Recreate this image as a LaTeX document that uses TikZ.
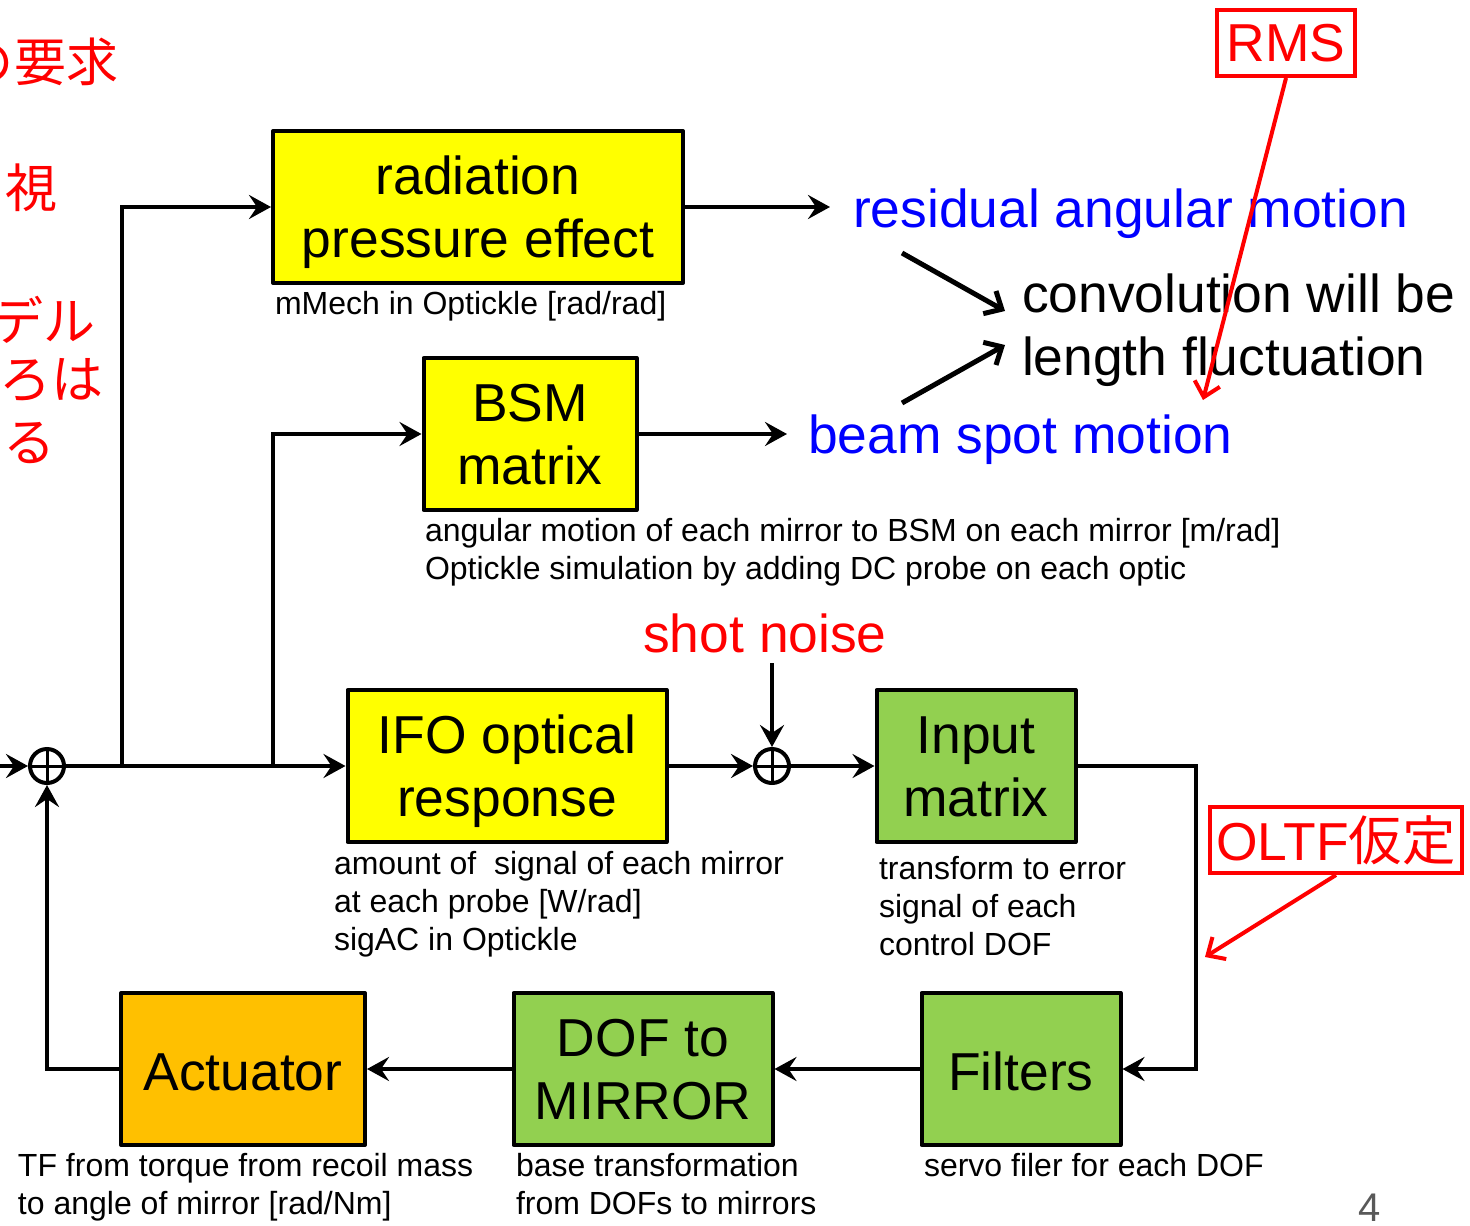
\documentclass[tikz,border=0pt]{standalone}
\usepackage{fontspec}
\setmainfont{Liberation Sans}
\newfontfamily\jp{Noto Sans CJK JP}
\usetikzlibrary{arrows.meta}
\definecolor{boxyellow}{HTML}{FFFF00}
\definecolor{boxgreen}{HTML}{92D050}
\definecolor{boxorange}{HTML}{FFC000}
\definecolor{pagegray}{HTML}{595959}
\tikzset{
	block/.style={draw,rectangle,line width=2pt,line join=round,align=center,inner sep=0pt,
		minimum height=76pt,font=\fontsize{26.7}{31.5}\selectfont,text height=50.5pt,text depth=0pt},
	one/.style={text height=21pt,text depth=0pt},
	yel/.style={block,fill=boxyellow},
	grn/.style={block,fill=boxgreen},
	org/.style={block,fill=boxorange},
	sumj/.style={circle,draw,line width=2pt,minimum size=17pt,inner sep=0pt,
		path picture={\draw[line width=1.5pt] (path picture bounding box.north) -- (path picture bounding box.south)
			(path picture bounding box.west) -- (path picture bounding box.east);}},
	note/.style={anchor=west,align=left,inner sep=0pt,font=\fontsize{16}{19}\selectfont},
	big/.style={anchor=west,align=left,inner sep=0pt,font=\fontsize{26.7}{31.5}\selectfont},
	jptext/.style={anchor=east,inner sep=0pt,text=red,font=\jp\fontsize{26}{31.5}\selectfont},
	redbox/.style={draw=red,line width=2pt,text=red,inner sep=0pt,font=\fontsize{26.7}{31.5}\selectfont},
	-v/.style={-{Straight Barb[length=7pt,width=13pt]}},
	redarr/.style={-v,draw=red,line width=2pt}
}

\begin{document}
\begin{tikzpicture}[x=0.5pt,y=-0.5pt,line width=2pt,>={Stealth[length=11pt,width=12pt,inset=4pt]}]
	\useasboundingbox (0,0) rectangle (1470,1225);
	\clip (0,0) rectangle (1470,1225);

	% blocks
	\node[yel,minimum width=205pt] (rad) at (478,207) {radiation\\pressure effect};
	\node[yel,minimum width=106.5pt] (bsm) at (530,434) {BSM\\matrix};
	\node[yel,minimum width=159.5pt] (ifo) at (507,766) {IFO optical\\response};
	\node[grn,minimum width=99.5pt] (inmat) at (976,766) {Input\\matrix};
	\node[grn,one,minimum width=99.5pt] (filt) at (1021,1069) {Filters};
	\node[grn,minimum width=129.5pt] (dof) at (643,1069) {DOF to\\MIRROR};
	\node[org,one,minimum width=122pt] (act) at (243,1069) {Actuator};
	\node[sumj] (sumL) at (47,766) {};
	\node[sumj] (sumR) at (772,766) {};
	\coordinate (inL) at (0,766);
	\coordinate (br1) at (122,766);
	\coordinate (br2) at (273,766);
	\coordinate (radout) at (830,207);
	\coordinate (bsmout) at (787,434);
	\coordinate (rt) at (1196,766);

	% loop
	\draw[->] (inL) -- (sumL);
	\draw[->] (sumL) -- (ifo);
	\draw[->] (br1) |- (rad);
	\draw[->] (br2) |- (bsm);
	\draw[->] (rad) -- (radout);
	\draw[->] (bsm) -- (bsmout);
	\draw[->] (ifo) -- (sumR);
	\draw[->] (sumR) -- (inmat);
	\draw[->] (inmat) -- (rt) |- (filt);
	\draw[->] (filt) -- (dof);
	\draw[->] (dof) -- (act);
	\draw[->] (act) -| (sumL);

	% shot noise
	\node[text=red,inner sep=0pt,font=\fontsize{26.7}{31.5}\selectfont] (shot) at (765,633) {shot noise};
	\coordinate (shottail) at (772,663);
	\draw[->] (shottail) -- (sumR);

	% outputs
	\node[big,text=blue] (resid) at (851,214) {residual angular motion};
	\node[big,text=blue] (beam) at (806,440) {beam spot motion};
	\node[big] (conv) at (1020,330) {convolution will be\\length fluctuation};
	\coordinate (c1s) at (902,253);
	\coordinate (c1e) at (1005,311);
	\coordinate (c2s) at (902,403);
	\coordinate (c2e) at (1005,345);
	\draw[-v,line width=2.5pt] (c1s) -- (c1e);
	\draw[-v,line width=2.5pt] (c2s) -- (c2e);

	% notes
	\node[note] (n1) at (273,306) {mMech in Optickle [rad/rad]};
	\node[note] (n2) at (423,552) {angular motion of each mirror to BSM on each mirror [m/rad]\\Optickle simulation by adding DC probe on each optic};
	\node[note] (n3) at (332,904) {amount of\ \ signal of each mirror\\at each probe [W/rad]\\sigAC in Optickle};
	\node[note] (n4) at (877,906) {transform to error\\signal of each\\control DOF};
	\node[note] (n5) at (16,1187) {TF from torque from recoil mass\\to angle of mirror [rad/Nm]};
	\node[note] (n6) at (514,1184) {base transformation\\from DOFs to mirrors};
	\node[note] (n7) at (922,1165) {servo filer for each DOF};

	% red remarks
	\node[redbox,minimum width=69pt,minimum height=33pt] (rms) at (1286,43) {RMS};
	\coordinate (rmstip) at (1203,400);
	\draw[redarr] (rms.south) -- (rmstip);
	\node[redbox,minimum width=126pt,minimum height=33pt] (oltf) at (1336,840) {OLTF{\jp 仮定}};
	\coordinate (oltftip) at (1205,957);
	\draw[redarr] (oltf.south) -- (oltftip);

	% cut-off side text
	\node[jptext] (j1) at (120,62) {の要求};
	\node[jptext] (j2) at (59,188) {視};
	\node[jptext] (j3) at (97,320) {デル};
	\node[jptext] (j4) at (106,380) {ところは};
	\node[jptext] (j5) at (58,442) {する};

	\node[text=pagegray,inner sep=0pt,font=\fontsize{20}{24}\selectfont] (pg) at (1370,1208) {4};
\end{tikzpicture}
\end{document}
